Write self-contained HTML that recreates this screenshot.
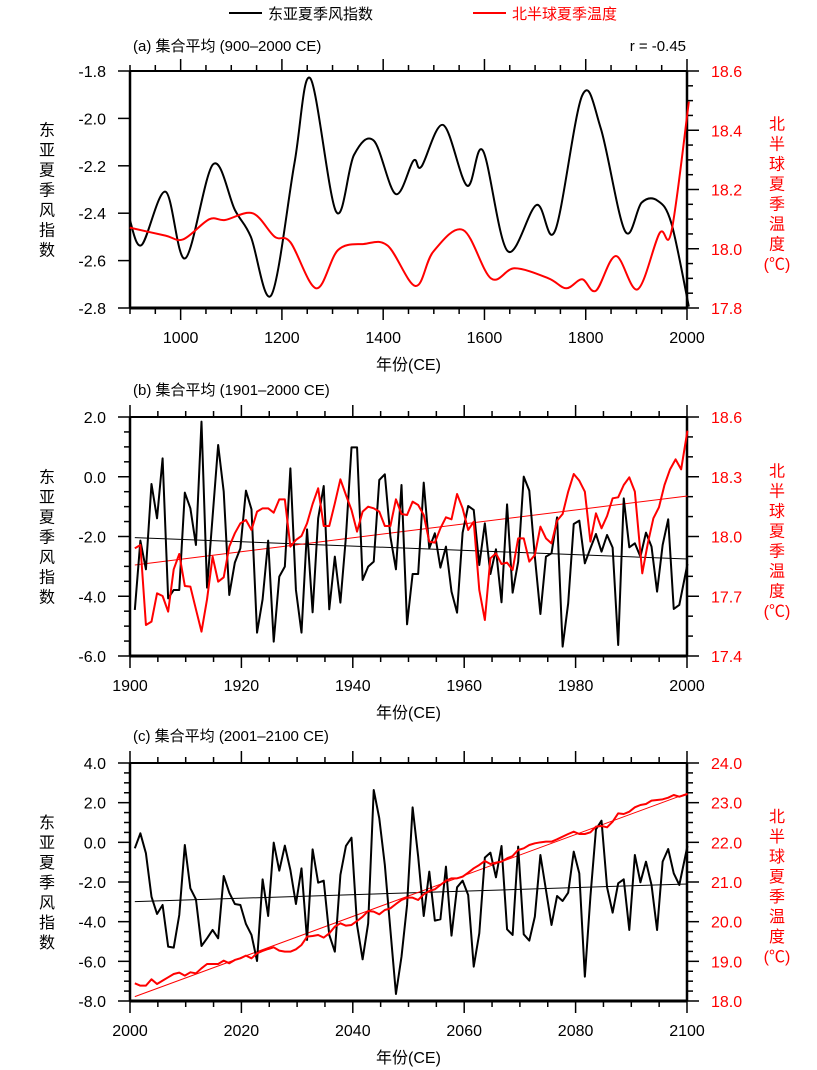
<!DOCTYPE html>
<html><head><meta charset="utf-8"><style>
html,body{margin:0;padding:0;background:#fff;}
svg{display:block;font-family:"Liberation Sans","Noto Sans CJK SC",sans-serif;}
</style></head><body>
<svg id="s" width="817" height="1070" xmlns="http://www.w3.org/2000/svg">
<g font-size="15">
<line x1="229" y1="13" x2="262" y2="13" stroke="#000" stroke-width="2"/>
<text x="268" y="19" fill="#000">东亚夏季风指数</text>
<line x1="473" y1="13" x2="506" y2="13" stroke="#f00" stroke-width="2"/>
<text x="512" y="19" fill="#f00">北半球夏季温度</text>
<text x="133" y="51">(a) 集合平均 (900–2000 CE)</text>
<text x="686" y="51" text-anchor="end">r = -0.45</text>
<text x="133" y="395">(b) 集合平均 (1901–2000 CE)</text>
<text x="133" y="741">(c) 集合平均 (2001–2100 CE)</text>
</g>
<g id="ax"></g>
<!-- panel a -->
<g transform="translate(100,40) scale(0.3968,0.3333)" fill="none" stroke-width="2" stroke-linejoin="round">
<polyline class="sm" vector-effect="non-scaling-stroke" stroke="#000" points="75,540 105,615 165,455 215,655 285,373 340,510 380,590 432,765 490,370 530,115 595,515 640,345 690,302 745,462 790,362 810,380 865,255 925,437 965,332 1027,633 1100,495 1147,572 1215,167 1262,265 1323,573 1365,488 1405,482 1440,550 1484,800"/>
<polyline class="sm" vector-effect="non-scaling-stroke" stroke="#f00" points="75,563 165,587 210,598 275,538 315,540 385,520 440,590 480,607 545,745 600,630 665,612 725,617 795,738 840,635 915,570 985,715 1045,685 1130,715 1175,745 1215,718 1250,752 1300,648 1355,748 1410,580 1440,575 1484,185"/>
</g>
<!-- panel b -->
<g transform="translate(120,410) scale(0.3704,0.3333)" fill="none" stroke-width="2" stroke-linejoin="round">
<line vector-effect="non-scaling-stroke" x1="40" y1="383" x2="1532" y2="447" stroke="#000" stroke-width="1"/>
<line vector-effect="non-scaling-stroke" x1="40" y1="465" x2="1532" y2="258" stroke="#f00" stroke-width="1"/>
<polyline vector-effect="non-scaling-stroke" stroke="#000" points="40,600 55,392 70,478 85,222 100,325 115,145 130,565 145,540 160,540 175,248 190,295 205,405 220,35 235,533 250,320 265,105 280,245 295,555 310,458 325,415 340,242 355,298 370,668 385,568 400,392 415,695 430,500 445,470 460,175 475,540 490,668 505,358 520,607 535,325 550,228 565,598 580,440 595,578 610,380 625,112 640,112 655,510 670,470 685,455 700,210 715,193 730,380 745,478 760,225 775,643 790,492 805,492 820,218 835,415 850,370 865,473 880,410 895,545 910,608 925,368 940,288 955,300 970,465 985,340 1000,492 1015,418 1030,577 1045,283 1060,548 1075,455 1090,200 1105,242 1120,440 1135,612 1150,440 1165,430 1180,322 1195,710 1210,580 1225,342 1240,332 1255,460 1270,415 1285,372 1300,425 1315,375 1330,413 1345,705 1360,265 1375,412 1390,400 1405,440 1420,368 1435,410 1450,545 1465,405 1480,328 1495,597 1510,585 1532,462"/>
<polyline vector-effect="non-scaling-stroke" stroke="#f00" points="40,415 55,405 70,645 85,635 100,550 115,558 130,605 145,478 160,432 175,528 190,530 205,598 220,665 235,568 250,440 265,515 280,502 295,410 310,370 325,340 340,330 355,360 370,305 385,295 400,295 415,308 430,268 445,268 460,410 475,390 490,378 505,340 520,282 535,235 550,348 565,348 580,280 595,208 610,255 625,300 640,365 655,305 670,290 685,295 700,305 715,348 730,348 745,268 760,312 775,315 790,275 805,285 820,315 835,395 850,398 865,355 880,322 895,328 910,252 925,295 940,360 955,335 970,540 985,630 1000,445 1015,430 1030,462 1045,458 1060,480 1075,385 1090,385 1105,455 1120,435 1135,350 1150,385 1165,400 1180,332 1195,312 1210,245 1225,192 1240,212 1255,245 1270,395 1285,310 1300,355 1315,318 1330,265 1345,262 1360,225 1375,202 1390,245 1410,490 1425,400 1440,325 1455,292 1470,225 1485,178 1500,148 1515,178 1532,62"/>
</g>
<!-- panel c -->
<g transform="translate(120,750) scale(0.3704,0.3333)" fill="none" stroke-width="2" stroke-linejoin="round">
<line vector-effect="non-scaling-stroke" x1="40" y1="455" x2="1532" y2="402" stroke="#000" stroke-width="1"/>
<line vector-effect="non-scaling-stroke" x1="40" y1="740" x2="1532" y2="130" stroke="#f00" stroke-width="1"/>
<polyline vector-effect="non-scaling-stroke" stroke="#000" points="40,295 55,250 70,310 85,440 100,492 115,465 130,590 145,593 160,495 175,285 190,415 205,448 220,588 235,565 250,540 265,565 280,378 295,428 310,462 325,465 340,522 355,555 370,633 385,388 400,498 415,278 430,362 445,287 460,360 475,462 490,355 505,570 520,298 535,398 550,392 565,555 580,605 595,375 610,288 625,263 640,525 655,628 670,520 685,120 700,205 715,345 730,540 745,732 760,620 775,465 790,172 805,320 820,498 835,365 850,512 865,508 880,350 895,557 910,412 925,392 940,435 955,650 970,550 985,323 1000,308 1015,382 1030,288 1045,538 1060,555 1075,290 1090,553 1105,572 1120,500 1135,315 1150,420 1165,525 1180,438 1195,453 1210,428 1225,305 1240,370 1255,680 1270,440 1285,238 1300,212 1315,412 1330,488 1345,400 1360,388 1375,540 1390,315 1405,397 1420,335 1435,405 1450,540 1465,335 1480,297 1495,370 1510,405 1532,288"/>
<polyline vector-effect="non-scaling-stroke" stroke="#f00" points="40,700 55,707 70,707 85,688 100,702 115,692 130,682 145,672 160,668 175,677 190,667 205,670 220,655 235,642 250,642 265,642 280,632 295,640 310,630 325,625 340,617 355,625 370,610 385,603 400,597 415,592 430,602 445,605 460,605 475,598 490,585 505,560 520,558 535,555 550,563 565,550 580,530 595,520 610,527 625,525 640,513 655,500 670,483 685,485 700,493 715,480 730,475 745,462 760,450 775,443 790,443 805,450 820,433 835,423 850,418 865,405 880,392 895,385 910,385 925,380 940,368 955,355 970,345 985,333 1000,342 1015,338 1030,335 1045,325 1060,318 1075,300 1090,295 1105,285 1120,280 1135,277 1150,275 1165,275 1180,268 1195,260 1210,252 1225,245 1240,252 1255,252 1270,247 1285,230 1300,228 1315,232 1330,215 1345,190 1360,192 1375,185 1390,172 1405,165 1420,162 1435,152 1450,150 1465,148 1480,143 1495,135 1510,140 1532,132"/>
</g>
</svg>
<script>
(function(){
// smooth panel a curves
var pls=document.querySelectorAll("polyline.sm");
for(var k=0;k<pls.length;k++){
  var pl=pls[k],pts=pl.getAttribute("points").trim().split(/\s+/).map(function(s){var a=s.split(",");return [+a[0],+a[1]];});
  var d="M"+pts[0][0]+","+pts[0][1];
  for(var i=0;i<pts.length-1;i++){
    var p0=pts[i-1]||pts[i],p1=pts[i],p2=pts[i+1],p3=pts[i+2]||p2;
    var c1=[p1[0]+(p2[0]-p0[0])/6,p1[1]+(p2[1]-p0[1])/6],c2=[p2[0]-(p3[0]-p1[0])/6,p2[1]-(p3[1]-p1[1])/6];
    d+=" C"+c1+" "+c2+" "+p2;
  }
  var p=document.createElementNS("http://www.w3.org/2000/svg","path");
  p.setAttribute("d",d);p.setAttribute("stroke",pl.getAttribute("stroke"));
  p.setAttribute("vector-effect","non-scaling-stroke");
  pl.parentNode.replaceChild(p,pl);
}
var g=document.getElementById("ax"),o="";
var L=130,R=687;
function ln(x1,y1,x2,y2,w,c){o+='<line x1="'+x1+'" y1="'+y1+'" x2="'+x2+'" y2="'+y2+'" stroke="'+(c||"#000")+'" stroke-width="'+w+'"/>';}
function tx(x,y,s,a,c){o+='<text x="'+x+'" y="'+y+'" font-size="16" text-anchor="'+a+'" fill="'+(c||"#000")+'">'+s+'</text>';}
function panel(T,B,x0,x1,xmaj,xmin,ly0,ly1,lmaj,lmin,ldec,ry0,ry1,rmaj,rmin,rdec){
  ln(L,T,R,T,2);ln(L,B,R,B,3);ln(L,T,L,B,2.5);ln(R,T,R,B,2.5);
  var X=function(v){return L+(v-x0)/(x1-x0)*(R-L);};
  for(var v=x0;v<=x1+1e-9;v+=xmin){var x=X(v);var m=Math.abs(v/xmaj-Math.round(v/xmaj))<1e-6;var l=m?12:6;ln(x,T,x,T-l,1.5);ln(x,B,x,B+l,1.5);if(m)tx(x,B+35,v,"middle");}
  var YL=function(v){return T+(ly0-v)/(ly0-ly1)*(B-T);};
  var n=Math.round((ly0-ly1)/lmin);
  for(var i=0;i<=n;i++){var v=ly0-i*lmin,y=YL(v);var m=Math.abs((ly0-v)/lmaj-Math.round((ly0-v)/lmaj))<1e-6;ln(L,y,L-(m?12:6),y,1.5);if(m)tx(106,y+6,v.toFixed(ldec),"end");}
  var YR=function(v){return T+(ry0-v)/(ry0-ry1)*(B-T);};
  n=Math.round((ry0-ry1)/rmin);
  for(var i=0;i<=n;i++){var v=ry0-i*rmin,y=YR(v);var m=Math.abs((ry0-v)/rmaj-Math.round((ry0-v)/rmaj))<1e-6;ln(R,y,R+(m?12:6),y,1.5);if(m)tx(711,y+6,v.toFixed(rdec),"start","#f00");}
  var lab="东亚夏季风指数",ly=(T+B)/2-60;
  for(var i=0;i<7;i++)tx(47,ly+i*20+6,lab[i],"middle");
  var rl=["北","半","球","夏","季","温","度","(℃)"];ly=(T+B)/2-66;
  for(var i=0;i<8;i++)tx(777,ly+i*20+6,rl[i],"middle","#f00");
  tx((L+R)/2,B+62,"年份(CE)","middle");
}
panel(71,308,900,2000,200,50,-1.8,-2.8,0.2,0.2,1,18.6,17.8,0.2,0.05,1);
panel(417,656,1900,2000,20,5,2,-6,2,0.5,1,18.6,17.4,0.3,0.1,1);
panel(763,1001,2000,2100,20,5,4,-8,2,0.5,1,24,18,1,0.25,1);
g.innerHTML=o;
})();
</script>
</body></html>
